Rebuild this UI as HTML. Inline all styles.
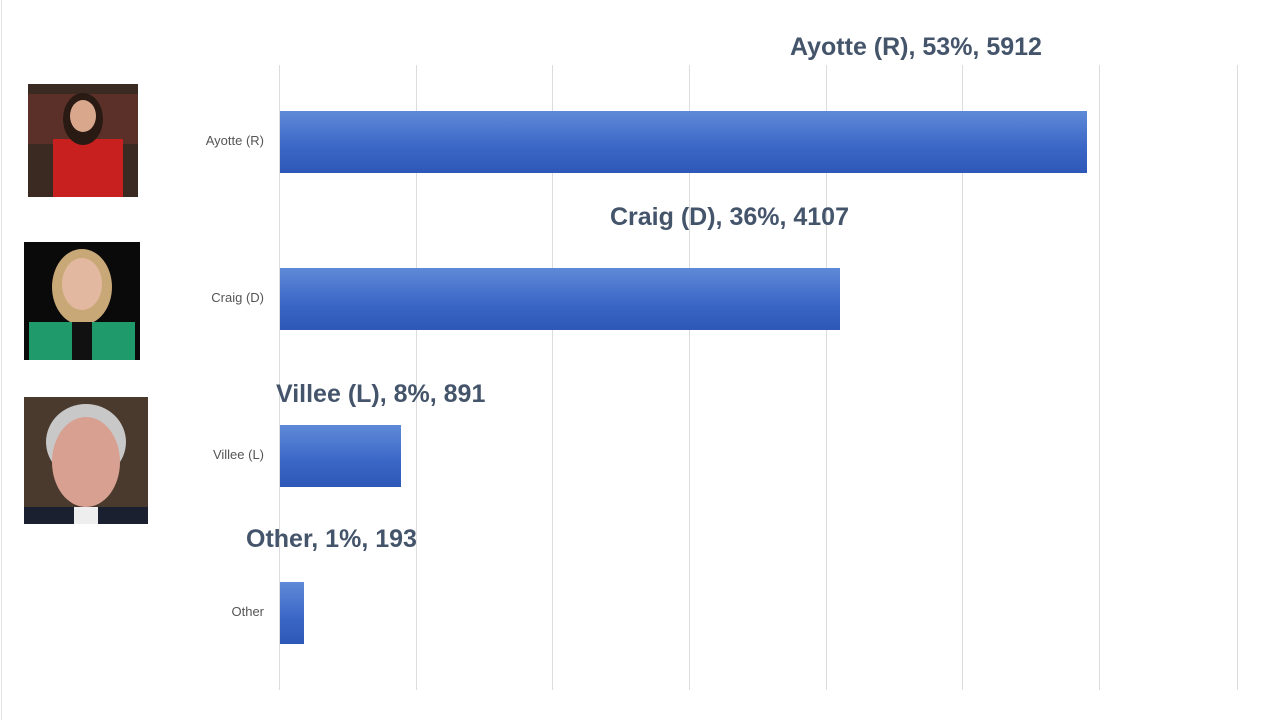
<!DOCTYPE html>
<html><head><meta charset="utf-8"><style>
body{margin:0;width:1280px;height:720px;background:#fff;position:relative;overflow:hidden;font-family:"Liberation Sans",sans-serif}
.g{position:absolute;top:65px;height:625px;width:1px;background:#dcdcdc}
.bar{position:absolute;left:280px;height:62px;background:linear-gradient(#5f8ad8,#3a66c6 60%,#2e58b8)}
.cat{position:absolute;font-size:13px;color:#555;text-align:right;width:120px;left:144px}
.lab{position:absolute;font-size:25px;font-weight:bold;color:#44546a;white-space:nowrap}
.ph{position:absolute;overflow:hidden}
</style></head><body>
<div style="position:absolute;left:1px;top:0;width:1px;height:720px;background:#e4e4e4"></div>
<div class="g" style="left:279px"></div><div class="g" style="left:416px"></div><div class="g" style="left:552px"></div><div class="g" style="left:689px"></div><div class="g" style="left:826px"></div><div class="g" style="left:962px"></div><div class="g" style="left:1099px"></div><div class="g" style="left:1237px"></div>
<div class="bar" style="top:111px;width:807px"></div>
<div class="bar" style="top:268px;width:560px"></div>
<div class="bar" style="top:425px;width:121px"></div>
<div class="bar" style="top:582px;width:24px"></div>
<div class="cat" style="top:133px">Ayotte (R)</div>
<div class="cat" style="top:290px">Craig (D)</div>
<div class="cat" style="top:447px">Villee (L)</div>
<div class="cat" style="top:604px">Other</div>
<div class="lab" style="left:790px;top:33px">Ayotte (R), 53%, 5912</div>
<div class="lab" style="left:610px;top:203px">Craig (D), 36%, 4107</div>
<div class="lab" style="left:276px;top:380px">Villee (L), 8%, 891</div>
<div class="lab" style="left:246px;top:525px">Other, 1%, 193</div>
<svg class="ph" style="left:28px;top:84px" width="110" height="113"><rect width="110" height="113" fill="#3a2a22"/><rect y="10" width="110" height="50" fill="#5a3028"/><rect x="25" y="55" width="70" height="58" fill="#c8201e"/><ellipse cx="55" cy="35" rx="20" ry="26" fill="#2a1a14"/><ellipse cx="55" cy="32" rx="13" ry="16" fill="#d9a88c"/></svg>
<svg class="ph" style="left:24px;top:242px" width="116" height="118"><rect width="116" height="118" fill="#0a0a0a"/><ellipse cx="58" cy="45" rx="30" ry="38" fill="#c9a878"/><ellipse cx="58" cy="42" rx="20" ry="26" fill="#e2b8a0"/><rect x="5" y="80" width="106" height="38" fill="#1f9a6a"/><rect x="48" y="80" width="20" height="38" fill="#111"/></svg>
<svg class="ph" style="left:24px;top:397px" width="124" height="127"><rect width="124" height="127" fill="#4a3a2e"/><ellipse cx="62" cy="45" rx="40" ry="38" fill="#c8c8c8"/><ellipse cx="62" cy="65" rx="34" ry="45" fill="#d8a090"/><rect x="0" y="110" width="124" height="17" fill="#1a2030"/><rect x="50" y="110" width="24" height="17" fill="#eee"/></svg>
</body></html>
